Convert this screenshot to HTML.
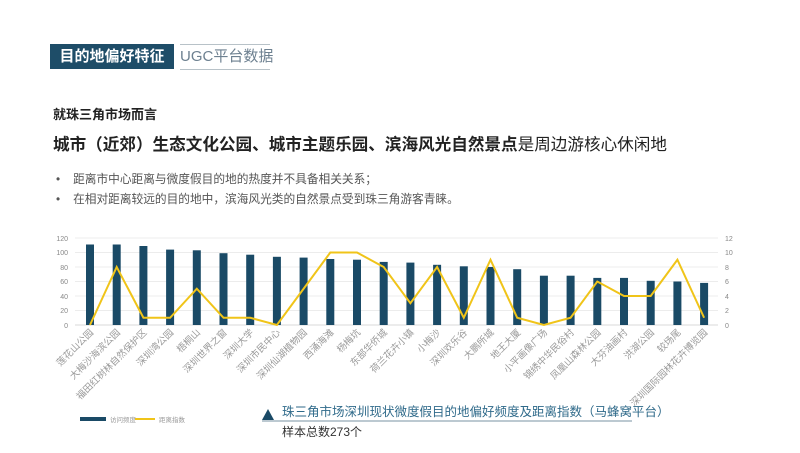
<!DOCTYPE html>
<html><head><meta charset="utf-8"><style>
body{margin:0;width:800px;height:453px;background:#fff;overflow:hidden;font-family:"Liberation Sans","Noto Sans CJK SC",sans-serif;position:relative}
.a{position:absolute;white-space:nowrap}
</style></head><body>
<div class="a" style="left:50px;top:44px;width:124px;height:25px;background:#1e4d68;color:#fff;font-size:15px;font-weight:bold;line-height:25px;text-align:center">目的地偏好特征</div>
<div class="a" style="left:180px;top:44px;width:90px;height:24px;border-top:1px solid #b8c2c8;border-bottom:1px solid #b8c2c8;color:#6d8090;font-size:15px;line-height:24px">UGC平台数据</div>
<div class="a" style="left:53px;top:104px;font-size:13px;font-weight:bold;color:#222">就珠三角市场而言</div>
<div class="a" style="left:53px;top:131px;font-size:16.6px;color:#222"><b>城市（近郊）生态文化公园、城市主题乐园、滨海风光自然景点</b>是周边游核心休闲地</div>
<div class="a" style="left:56px;top:170px;font-size:11.7px;color:#555">•<span style="display:inline-block;width:13px"></span>距离市中心距离与微度假目的地的热度并不具备相关关系；</div>
<div class="a" style="left:56px;top:190px;font-size:11.7px;color:#555">•<span style="display:inline-block;width:13px"></span>在相对距离较远的目的地中，滨海风光类的自然景点受到珠三角游客青睐。</div>
<svg class="a" style="left:0;top:0" width="800" height="453" font-family="Liberation Sans, Noto Sans CJK SC, sans-serif">
<g stroke="#ececec" stroke-width="1">
<line x1="75" x2="718" y1="238" y2="238"/><line x1="75" x2="718" y1="252.5" y2="252.5"/><line x1="75" x2="718" y1="267" y2="267"/><line x1="75" x2="718" y1="281.5" y2="281.5"/><line x1="75" x2="718" y1="296" y2="296"/><line x1="75" x2="718" y1="310.5" y2="310.5"/><line x1="75" x2="718" y1="325" y2="325" stroke="#d8d8d8"/>
</g>
<g font-size="7" fill="#888" text-anchor="end">
<text x="68" y="241">120</text><text x="68" y="255">100</text><text x="68" y="270">80</text><text x="68" y="284">60</text><text x="68" y="299">40</text><text x="68" y="313">20</text><text x="68" y="328">0</text>
</g>
<g font-size="7" fill="#888">
<text x="725" y="241">12</text><text x="725" y="255">10</text><text x="725" y="270">8</text><text x="725" y="284">6</text><text x="725" y="299">4</text><text x="725" y="313">2</text><text x="725" y="328">0</text>
</g>
<g fill="#1a4a66">
<rect x="86" y="244.5" width="8" height="80.5"/><rect x="112.7" y="244.5" width="8" height="80.5"/><rect x="139.4" y="246" width="8" height="79"/><rect x="166.1" y="249.6" width="8" height="75.4"/><rect x="192.8" y="250.3" width="8" height="74.7"/><rect x="219.5" y="253.2" width="8" height="71.8"/><rect x="246.2" y="254.7" width="8" height="70.3"/><rect x="272.9" y="256.8" width="8" height="68.2"/><rect x="299.6" y="257.6" width="8" height="67.4"/><rect x="326.3" y="259" width="8" height="66"/><rect x="353" y="259.7" width="8" height="65.3"/><rect x="379.7" y="261.9" width="8" height="63.1"/><rect x="406.4" y="262.6" width="8" height="62.4"/><rect x="433.1" y="264.8" width="8" height="60.2"/><rect x="459.8" y="266.3" width="8" height="58.7"/><rect x="486.5" y="267" width="8" height="58"/><rect x="513.2" y="269.2" width="8" height="55.8"/><rect x="539.9" y="275.7" width="8" height="49.3"/><rect x="566.6" y="275.7" width="8" height="49.3"/><rect x="593.3" y="277.9" width="8" height="47.1"/><rect x="620" y="277.9" width="8" height="47.1"/><rect x="646.7" y="280.8" width="8" height="44.2"/><rect x="673.4" y="281.5" width="8" height="43.5"/><rect x="700.1" y="282.9" width="8" height="42.1"/>
</g>
<polyline fill="none" stroke="#f0c419" stroke-width="2" points="90,325 116.7,267 143.4,317.75 170.1,317.75 196.8,288.75 223.5,317.75 250.2,317.75 276.9,325 303.6,288.75 330.3,252.5 357,252.5 383.7,267 410.4,303.25 437.1,267 463.8,317.75 490.5,259.75 517.2,317.75 543.9,325 570.6,317.75 597.3,281.5 624,296 650.7,296 677.4,259.75 704.1,317.75"/>
<g font-size="9.5" fill="#9a9a9a" text-anchor="end">
<text transform="translate(94,333) rotate(-45)">莲花山公园</text>
<text transform="translate(120.7,333) rotate(-45)">大梅沙海滨公园</text>
<text transform="translate(147.4,333) rotate(-45)">福田红树林自然保护区</text>
<text transform="translate(174.1,333) rotate(-45)">深圳湾公园</text>
<text transform="translate(200.8,333) rotate(-45)">梧桐山</text>
<text transform="translate(227.5,333) rotate(-45)">深圳世界之窗</text>
<text transform="translate(254.2,333) rotate(-45)">深圳大学</text>
<text transform="translate(280.9,333) rotate(-45)">深圳市民中心</text>
<text transform="translate(307.6,333) rotate(-45)">深圳仙湖植物园</text>
<text transform="translate(334.3,333) rotate(-45)">西涌海滩</text>
<text transform="translate(361,333) rotate(-45)">杨梅坑</text>
<text transform="translate(387.7,333) rotate(-45)">东部华侨城</text>
<text transform="translate(414.4,333) rotate(-45)">荷兰花卉小镇</text>
<text transform="translate(441.1,333) rotate(-45)">小梅沙</text>
<text transform="translate(467.8,333) rotate(-45)">深圳欢乐谷</text>
<text transform="translate(494.5,333) rotate(-45)">大鹏所城</text>
<text transform="translate(521.2,333) rotate(-45)">地王大厦</text>
<text transform="translate(547.9,333) rotate(-45)">小平画像广场</text>
<text transform="translate(574.6,333) rotate(-45)">锦绣中华民俗村</text>
<text transform="translate(601.3,333) rotate(-45)">凤凰山森林公园</text>
<text transform="translate(628,333) rotate(-45)">大芬油画村</text>
<text transform="translate(654.7,333) rotate(-45)">洪湖公园</text>
<text transform="translate(681.4,333) rotate(-45)">较场尾</text>
<text transform="translate(708.1,333) rotate(-45)">深圳国际园林花卉博览园</text>
</g>
<rect x="80" y="417" width="26" height="4" fill="#1a4a66"/>
<text x="110" y="422" font-size="6.5" fill="#999">访问频度</text>
<line x1="135" x2="155" y1="419" y2="419" stroke="#f0c419" stroke-width="2"/>
<text x="159" y="422" font-size="6.5" fill="#999">距离指数</text>
<polygon points="262,420 274,420 268,409" fill="#1a4a66"/>
<text x="282" y="416" font-size="12.5" fill="#2f6a8a">珠三角市场深圳现状微度假目的地偏好频度及距离指数（马蜂窝平台）</text>
<line x1="262" x2="632" y1="421" y2="421" stroke="#7a93a3" stroke-width="1"/>
<text x="282" y="436" font-size="12" fill="#333">样本总数273个</text>
</svg>
</body></html>
